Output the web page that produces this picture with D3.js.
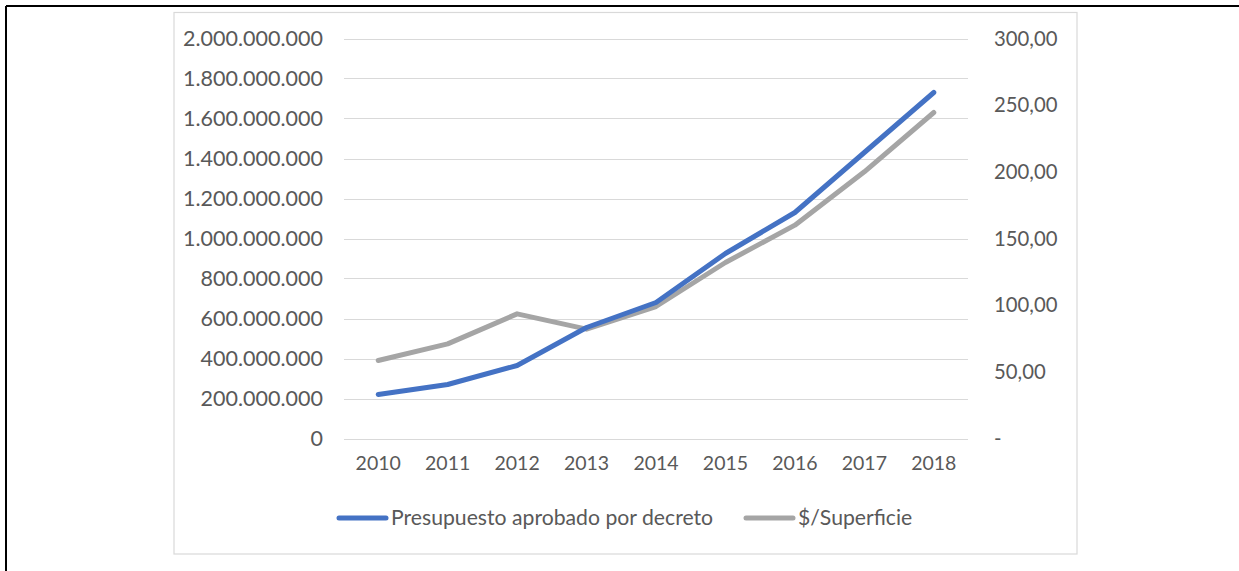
<!DOCTYPE html>
<html><head><meta charset="utf-8">
<script src="https://cdn.jsdelivr.net/npm/d3@7"></script>
<style>
html,body{margin:0;padding:0;background:#fff;}
svg{display:block;}
text{font-family:Lato,"Open Sans",sans-serif;fill:#595959;}
</style></head>
<body>
<svg id="chart" width="1239" height="571"></svg>
<script>
const years = ["2010","2011","2012","2013","2014","2015","2016","2017","2018"];
const presupuesto = [220000000, 270000000, 365000000, 555000000, 680000000, 925000000, 1130000000, 1430000000, 1730000000];
const superficie = [58.5, 71, 93.5, 82, 99, 132, 160, 200, 244.5];
const leftTicks = [0, 200000000, 400000000, 600000000, 800000000, 1000000000, 1200000000, 1400000000, 1600000000, 1800000000, 2000000000];
const rightTicks = [0, 50, 100, 150, 200, 250, 300];
const seriesNames = ["Presupuesto aprobado por decreto", "$/Superficie"];
const colors = ["#4472C4", "#A5A5A5"];

const svg = d3.select("#chart");
const locale = d3.formatLocale({decimal: ",", thousands: ".", grouping: [3], currency: ["$", ""]});
const fmtL = locale.format(",.0f");
const fmtR = v => v === 0 ? "-" : locale.format(",.2f")(v);

// outer frame
svg.append("line").attr("x1", 6).attr("x2", 1239).attr("y1", 6).attr("y2", 6).attr("stroke", "#000").attr("stroke-width", 2);
svg.append("line").attr("x1", 6).attr("x2", 6).attr("y1", 6).attr("y2", 571).attr("stroke", "#000").attr("stroke-width", 2);
// chart area border
svg.append("rect").attr("x", 174).attr("y", 12.5).attr("width", 903).attr("height", 541.5)
  .attr("fill", "#fff").attr("stroke", "#d9d9d9").attr("stroke-width", 1.2);

const x = d3.scaleBand().domain(years).range([343.5, 968.5]);
const yL = d3.scaleLinear().domain([0, 2000000000]).range([438.5, 38.5]);
const yR = d3.scaleLinear().domain([0, 300]).range([438.5, 38.5]);

// gridlines
svg.append("g").selectAll("line").data(leftTicks).join("line")
  .attr("x1", 344).attr("x2", 968)
  .attr("y1", d => Math.round(yL(d)) + 0.5).attr("y2", d => Math.round(yL(d)) + 0.5)
  .attr("stroke", "#d9d9d9").attr("stroke-width", 1);

// left axis
const axL = svg.append("g").attr("transform", "translate(330,0)")
  .call(d3.axisLeft(yL).tickValues(leftTicks).tickFormat(fmtL).tickSize(0).tickPadding(7));
axL.select(".domain").remove();
axL.selectAll("text").attr("font-size", 21.5).style("font-family", "Lato").attr("fill", "#595959");

// right axis
const axR = svg.append("g").attr("transform", "translate(987,0)")
  .call(d3.axisRight(yR).tickValues(rightTicks).tickFormat(fmtR).tickSize(0).tickPadding(7));
axR.select(".domain").remove();
axR.selectAll("text").attr("font-size", 20.3).style("font-family", "Lato").attr("fill", "#595959");

// x axis
const axX = svg.append("g").attr("transform", "translate(0,452)")
  .call(d3.axisBottom(x).tickSize(0).tickPadding(4));
axX.select(".domain").remove();
axX.selectAll("text").attr("font-size", 19.5).style("font-family", "Lato").attr("fill", "#595959");

const cx = d => x(d) + x.bandwidth() / 2;
const lineL = d3.line().x((d, i) => cx(years[i])).y(d => yL(d));
const lineR = d3.line().x((d, i) => cx(years[i])).y(d => yR(d));

svg.append("path").attr("d", lineR(superficie)).attr("fill", "none")
  .attr("stroke", colors[1]).attr("stroke-width", 5).attr("stroke-linejoin", "round").attr("stroke-linecap", "round");
svg.append("path").attr("d", lineL(presupuesto)).attr("fill", "none")
  .attr("stroke", colors[0]).attr("stroke-width", 5).attr("stroke-linejoin", "round").attr("stroke-linecap", "round");

// legend
const legendY = 518;
const legendX = [337, 744];
seriesNames.forEach((name, i) => {
  const g = svg.append("g");
  g.append("line").attr("x1", legendX[i] + 2).attr("x2", legendX[i] + 49).attr("y1", legendY).attr("y2", legendY)
    .attr("stroke", colors[i]).attr("stroke-width", 5).attr("stroke-linecap", "round");
  g.append("text").attr("x", legendX[i] + 54).attr("y", legendY).attr("dy", "0.35em")
    .attr("font-size", 21.2).text(name);
});
</script>
</body></html>
